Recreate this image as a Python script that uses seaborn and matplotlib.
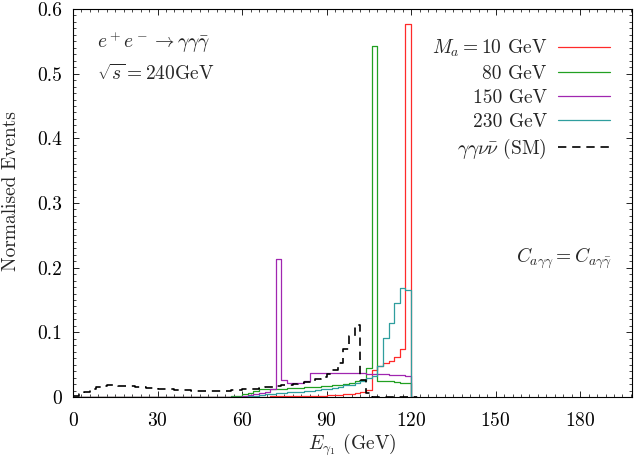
import numpy as np
import pandas as pd
import matplotlib
matplotlib.use('Agg')
import matplotlib.pyplot as plt
import seaborn as sns
from matplotlib.lines import Line2D
from matplotlib.ticker import MultipleLocator, FuncFormatter

# histogram contents, 2 GeV bins from 0 to 120 GeV (60 bins each)
ma10 = ([0.0] * 35 +
        [0.001, 0.001, 0.001, 0.001, 0.001,
         0.0015, 0.0015, 0.002, 0.002, 0.002,
         0.0025, 0.003, 0.003, 0.004, 0.0045,
         0.0055, 0.007, 0.011, 0.042, 0.048,
         0.052, 0.056, 0.062, 0.075, 0.577])

ma80 = ([0.0] * 28 +
        [0.001, 0.002, 0.004, 0.006, 0.009, 0.012, 0.012,
         0.0125, 0.013, 0.013, 0.0135, 0.014,
         0.0145, 0.015, 0.0155, 0.016, 0.0165,
         0.017, 0.018, 0.019, 0.020, 0.022,
         0.024, 0.027, 0.045, 0.543, 0.025,
         0.0245, 0.024, 0.023, 0.022, 0.021])

ma150 = ([0.0] * 30 +
         [0.002, 0.003, 0.004, 0.006, 0.008, 0.012,
          0.213, 0.026, 0.021, 0.021, 0.022, 0.025,
          0.037, 0.0375, 0.0375, 0.0375, 0.037, 0.037,
          0.037, 0.037, 0.0365, 0.0365, 0.036, 0.036,
          0.0355, 0.035, 0.0345, 0.034, 0.0335, 0.033])

ma230 = ([0.0] * 31 +
         [0.001, 0.002, 0.003, 0.004, 0.005, 0.006, 0.0065, 0.007, 0.0075,
          0.008, 0.009, 0.010, 0.011, 0.012, 0.013, 0.014, 0.016, 0.018,
          0.019, 0.021, 0.024, 0.029, 0.033, 0.048, 0.091, 0.115, 0.145,
          0.169, 0.165])

sm = ([0.002, 0.004, 0.008, 0.013, 0.016, 0.017, 0.018, 0.018, 0.0175, 0.017,
       0.0165, 0.016, 0.015, 0.0145, 0.014, 0.013, 0.0125, 0.012, 0.0115, 0.011,
       0.0105, 0.010, 0.0095, 0.009, 0.009, 0.009, 0.0095, 0.010, 0.0105, 0.011,
       0.012, 0.0125, 0.013, 0.014, 0.015, 0.016, 0.017, 0.018, 0.019, 0.020,
       0.021, 0.023, 0.025, 0.028, 0.031, 0.036, 0.042, 0.052, 0.075, 0.095,
       0.111, 0.026, 0.006] + [0.0] * 7)

labels = [r'$M_a = 10$ GeV', '80 GeV', '150 GeV', '230 GeV',
          r'$\gamma\gamma\nu\bar{\nu}$ (SM)']
colors = ['#ff2a2a', '#22a022', '#a026b0', '#2f9e9e', 'black']

sns.set_style('ticks')
plt.rcParams.update({
    'font.family': ['cmr10'],
    'mathtext.fontset': 'cm',
    'axes.formatter.use_mathtext': True,
    'font.size': 14,
    'axes.linewidth': 0.8,
    'xtick.direction': 'in', 'ytick.direction': 'in',
    'xtick.top': True, 'ytick.right': True,
    'xtick.major.size': 4.5, 'ytick.major.size': 4.5,
    'xtick.minor.size': 2.2, 'ytick.minor.size': 2.2,
    'xtick.major.width': 0.6, 'ytick.major.width': 0.6,
    'xtick.minor.width': 0.5, 'ytick.minor.width': 0.5,
    'xtick.color': 'black', 'ytick.color': 'black',
    'axes.edgecolor': 'black',
})

edges = np.arange(0, 124, 2.0)
centres = edges[:60] + 1.0

fig = plt.figure(figsize=(6.36, 4.57), dpi=100)
ax = fig.add_axes([73 / 636, 1 - 397 / 457, 559 / 636, 388 / 457])

series = [ma10, ma80, ma150, ma230, sm]
for vals, col, lab in zip(series, colors, labels):
    df = pd.DataFrame({'E': centres, 'w': vals})
    ls = (0, (5, 3.5)) if col == 'black' else '-'
    lw = 1.2 if col == 'black' else 0.9
    sns.histplot(data=df, x='E', weights='w', bins=edges.tolist(), element='step',
                 fill=False, color=col, linewidth=lw, linestyle=ls, ax=ax)

ax.set_xlim(0, 198.4)
ax.set_ylim(0, 0.6)
ax.xaxis.set_major_locator(MultipleLocator(30))
ax.xaxis.set_minor_locator(MultipleLocator(3))
ax.yaxis.set_major_locator(MultipleLocator(0.1))
ax.yaxis.set_minor_locator(MultipleLocator(0.01))
ax.yaxis.set_major_formatter(FuncFormatter(lambda v, p: '0' if abs(v) < 1e-9 else f'{v:.1f}'))
ax.tick_params(axis='both', which='both', labelsize=14)
ax.tick_params(axis='x', pad=11)
ax.tick_params(axis='y', pad=8)

ax.set_xlabel(r'$E_{\gamma_1}$ (GeV)', fontsize=14)
ax.set_ylabel('Normalised Events', fontsize=14)
ax.yaxis.set_label_coords(-0.095, 0.53)
ax.xaxis.set_label_coords(0.5, -0.09)

handles = []
for col, lab in zip(colors, labels):
    ls = (0, (5, 3.5)) if col == 'black' else '-'
    lw = 1.2 if col == 'black' else 0.9
    handles.append(Line2D([], [], color=col, lw=lw, linestyle=ls, label=lab))
ax.legend(handles=handles, loc='upper right', markerfirst=False, frameon=False,
          bbox_to_anchor=(610 / 636, 1 - 38 / 457), bbox_transform=fig.transFigure,
          borderpad=0, borderaxespad=0, handlelength=2.7, handletextpad=0.55,
          labelspacing=0.3, fontsize=14)

ax.text(97 / 636, 1 - 42 / 457, r'$e^+e^- \rightarrow \gamma\gamma\bar{\gamma}$',
        transform=fig.transFigure, ha='left', va='center', fontsize=14)
ax.text(97 / 636, 1 - 74 / 457, r'$\sqrt{s} = 240$GeV',
        transform=fig.transFigure, ha='left', va='center', fontsize=14)
ax.text(612 / 636, 1 - 258 / 457, r'$C_{a\gamma\gamma} = C_{a\gamma\bar{\gamma}}$',
        transform=fig.transFigure, ha='right', va='center', fontsize=14)

fig.savefig('out.png', dpi=100)
